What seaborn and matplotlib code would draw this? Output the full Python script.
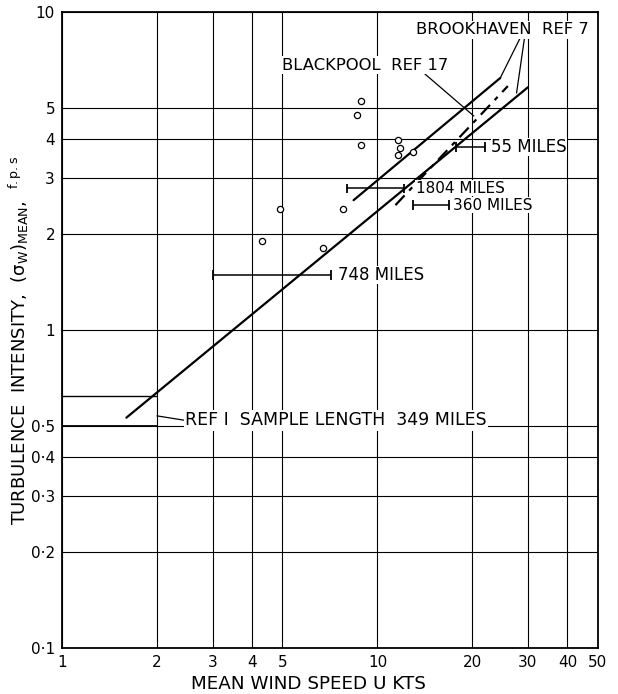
import matplotlib
matplotlib.use("Agg")
import matplotlib.pyplot as plt
import seaborn as sns

# open circle observations (wind speed kts, sigma_w f.p.s)
obs_u = [8.9, 8.6, 8.9, 11.6, 11.8, 11.6, 13.0, 7.8, 6.7, 4.9, 4.3]
obs_sigma = [5.25, 4.74, 3.82, 3.96, 3.74, 3.55, 3.63, 2.40, 1.81, 2.40, 1.90]

# fitted lines (end points, straight on log-log)
main_u = [1.6, 30.0]
main_sigma = [0.53, 5.8]
upper_u = [8.4, 24.5]
upper_sigma = [2.56, 6.2]
brook_u = [11.4, 25.9]
brook_sigma = [2.47, 5.85]

# horizontal range bars: sample length
bar_names = ["748 MILES", "1804 MILES", "360 MILES", "55 MILES"]
bar_lo = [3.0, 8.0, 13.0, 17.7]
bar_hi = [7.1, 12.1, 16.8, 21.9]
bar_sigma = [1.49, 2.79, 2.47, 3.76]
bar_text_u = [7.5, 13.2, 17.4, 22.9]
bar_fontsize = [12, 11, 11, 12]

# REF 1 box
ref1_u = [1.0, 2.0]
ref1_top = 0.62

x_ticks = [1, 2, 3, 4, 5, 10, 20, 30, 40, 50]
x_labels = ["1", "2", "3", "4", "5", "10", "20", "30", "40", "50"]
y_ticks = [0.1, 0.2, 0.3, 0.4, 0.5, 1, 2, 3, 4, 5, 10]
y_labels = ["0·1", "0·2", "0·3", "0·4", "0·5", "1", "2", "3", "4", "5", "10"]

sns.set_theme(style="white")
plt.rcParams['font.family'] = ['DejaVu Sans']
plt.rcParams['mathtext.default'] = 'regular'
for k in ['text.color', 'axes.labelcolor', 'xtick.color', 'ytick.color']:
    plt.rcParams[k] = 'black'

fig = plt.figure(figsize=(6.18, 6.94), dpi=100)
ax = fig.add_axes([0.1003, 0.0663, 0.8673, 0.9164])
ax.set_xscale("log")
ax.set_yscale("log")
ax.set_xlim(1, 50)
ax.set_ylim(0.1, 10)

ax.set_xticks(x_ticks)
ax.set_xticklabels(x_labels, fontsize=11)
ax.set_yticks(y_ticks)
ax.set_yticklabels(y_labels, fontsize=11)
ax.minorticks_off()
ax.tick_params(length=0, pad=5, colors="black")
ax.grid(True, color="black", linewidth=0.8)
for s in ax.spines.values():
    s.set_color("black")
    s.set_linewidth(1.3)

lw = 1.6
sns.lineplot(x=main_u, y=main_sigma, ax=ax, color="black", linewidth=lw)
sns.lineplot(x=upper_u, y=upper_sigma, ax=ax, color="black", linewidth=lw)
sns.lineplot(x=brook_u, y=brook_sigma, ax=ax, color="black", linewidth=lw)
ax.lines[-1].set_dashes([6, 3, 2, 3])

sns.scatterplot(x=obs_u, y=obs_sigma, ax=ax, marker="o", s=20,
                facecolor="white", edgecolor="black", linewidth=0.9, zorder=5)

# REF 1 box
ax.hlines(ref1_top, ref1_u[0], ref1_u[1], color="black", linewidth=1.0)
ax.hlines(0.5, ref1_u[0], ref1_u[1], color="black", linewidth=1.3)
ax.plot([2.0, 2.45], [0.537, 0.52], color="black", linewidth=0.9)
ax.text(2.46, 0.52, "REF I  SAMPLE LENGTH  349 MILES", fontsize=12.5,
        va="center", ha="left",
        bbox=dict(facecolor="white", edgecolor="none", pad=1))

# range bars
for name, lo, hi, sg, tu, fs in zip(bar_names, bar_lo, bar_hi, bar_sigma,
                                     bar_text_u, bar_fontsize):
    ax.hlines(sg, lo, hi, color="black", linewidth=1.1, zorder=4)
    ax.vlines([lo, hi], sg * 0.965, sg * 1.035, color="black", linewidth=1.3, zorder=4)
    ax.text(tu, sg, name, fontsize=fs, va="center", ha="left", zorder=6,
            bbox=dict(facecolor="white", edgecolor="none", pad=0.2))

# labels with leaders
ax.text(13.2, 8.78, "BROOKHAVEN  REF 7", fontsize=11.8, va="center", ha="left",
        zorder=6, bbox=dict(facecolor="white", edgecolor="none", pad=1))
ax.plot([28.7, 24.5], [8.5, 6.2], color="black", linewidth=0.9)
ax.plot([29.3, 27.6], [8.4, 5.56], color="black", linewidth=0.9)
ax.text(5.0, 6.8, "BLACKPOOL  REF 17", fontsize=11.8, va="center", ha="left",
        zorder=6, bbox=dict(facecolor="white", edgecolor="none", pad=1))
ax.plot([14.1, 20.2], [6.4, 4.71], color="black", linewidth=0.9)

ax.set_xlabel("MEAN WIND SPEED U KTS", fontsize=13.2)
ax.xaxis.set_label_coords(0.46, -0.042)
ax.set_ylabel(r"TURBULENCE  INTENSITY,  $(\sigma_{W})_{MEAN}$,  $^{f.p.s}$",
              fontsize=13)
ax.yaxis.set_label_coords(-0.058, 0.484)

fig.savefig("out.png", dpi=100, facecolor="white")
